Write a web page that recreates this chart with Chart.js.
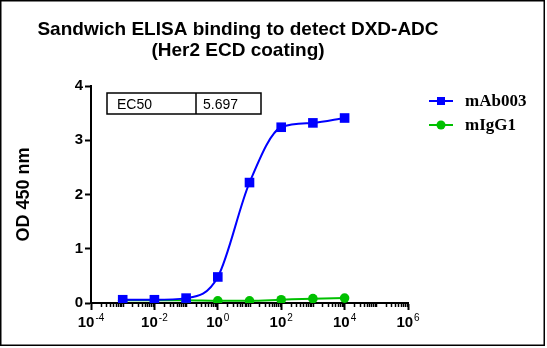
<!DOCTYPE html>
<html>
<head>
<meta charset="utf-8">
<script src="https://cdn.jsdelivr.net/npm/chart.js@4/dist/chart.umd.min.js"></script>
<style>
    html, body { margin: 0; padding: 0; background: #fff; }
    #wrap { width: 547px; height: 348px; position: relative; }
</style>
</head>
<body>
<div id="wrap"><canvas id="elisaChart" width="547" height="348"></canvas></div>
<script>
// Concentrations and OD readings
const concentrations = [0.001, 0.01, 0.1, 1, 10, 100, 1000, 10000];
const mAb003 = [0.06, 0.06, 0.09, 0.48, 2.22, 3.24, 3.32, 3.41];
const mIgG1 = [0.05, 0.05, 0.05, 0.04, 0.04, 0.06, 0.08, 0.09];

const seriesNames = ['mAb003', 'mIgG1'];
const titleLines = ['Sandwich ELISA binding to detect DXD-ADC', '(Her2 ECD coating)'];
const yTicks = [0, 1, 2, 3, 4];
const labelExponents = [-4, -2, 0, 2, 4, 6];
const ec50Label = 'EC50';
const ec50Value = '5.697';

const BLUE = '#0000FF';
const GREEN = '#00C000';
const SANS = '"Liberation Sans", Arial, sans-serif';
const SERIF = '"Liberation Serif", "Times New Roman", serif';

function toPoints(values) {
    return concentrations.map((c, i) => ({ x: c, y: values[i] }));
}

// frame, title, EC50 box, legend, log tick labels and minor ticks
const decorations = {
    id: 'decorations',
    afterDraw(chart) {
        const ctx = chart.ctx;
        const xs = chart.scales.x;
        const bottom = chart.chartArea.bottom;
        ctx.save();

        ctx.strokeStyle = '#000';
        ctx.lineWidth = 1.5;
        ctx.strokeRect(0.75, 0.75, 543.5, 344.5);

        ctx.fillStyle = '#000';
        ctx.font = 'bold 19px ' + SANS;
        ctx.textAlign = 'center';
        ctx.textBaseline = 'alphabetic';
        ctx.fillText(titleLines[0], 238, 35);
        ctx.fillText(titleLines[1], 238, 56);

        // EC50 table
        ctx.lineWidth = 1.5;
        ctx.strokeRect(107, 93, 154, 21);
        ctx.beginPath();
        ctx.moveTo(196, 93);
        ctx.lineTo(196, 114);
        ctx.stroke();
        ctx.font = '14px ' + SANS;
        ctx.textAlign = 'left';
        ctx.fillText(ec50Label, 117, 109);
        ctx.fillText(ec50Value, 203, 109);

        // legend
        const colors = [BLUE, GREEN];
        const styles = ['rect', 'circle'];
        seriesNames.forEach((name, i) => {
            const y = 101 + i * 24;
            ctx.strokeStyle = colors[i];
            ctx.fillStyle = colors[i];
            ctx.lineWidth = 2;
            ctx.beginPath();
            ctx.moveTo(429, y);
            ctx.lineTo(453, y);
            ctx.stroke();
            if (styles[i] === 'rect') {
                ctx.fillRect(437, y - 4, 8, 8);
            } else {
                ctx.beginPath();
                ctx.arc(441, y, 4.5, 0, Math.PI * 2);
                ctx.fill();
            }
            ctx.fillStyle = '#000';
            ctx.font = 'bold 17px ' + SERIF;
            ctx.textBaseline = 'middle';
            ctx.fillText(name, 465, y + 1);
        });

        // minor ticks on the log axis
        ctx.strokeStyle = '#000';
        ctx.lineWidth = 1.5;
        for (let e = -4; e < 6; e++) {
            for (let k = 1; k <= 9; k++) {
                if (k === 1 && labelExponents.includes(e)) continue;
                const px = Math.round(xs.getPixelForValue(k * Math.pow(10, e))) + 0.5;
                ctx.beginPath();
                ctx.moveTo(px, bottom);
                ctx.lineTo(px, bottom + 4);
                ctx.stroke();
            }
        }

        // 10^n labels
        ctx.fillStyle = '#000';
        ctx.textBaseline = 'alphabetic';
        labelExponents.forEach(e => {
            const px = xs.getPixelForValue(Math.pow(10, e));
            const exp = String(e);
            ctx.font = 'bold 15px ' + SANS;
            const baseW = ctx.measureText('10').width;
            ctx.font = '10px ' + SANS;
            const expW = ctx.measureText(exp).width;
            const start = px - (baseW + expW + 1) / 2;
            ctx.font = 'bold 15px ' + SANS;
            ctx.textAlign = 'left';
            ctx.fillText('10', start, 327);
            ctx.font = '10px ' + SANS;
            ctx.fillText(exp, start + baseW + 1, 321);
        });

        ctx.restore();
    }
};

new Chart(document.getElementById('elisaChart'), {
    type: 'line',
    data: {
        datasets: [
            {
                label: seriesNames[0],
                data: toPoints(mAb003),
                borderColor: BLUE,
                backgroundColor: BLUE,
                borderWidth: 2,
                pointStyle: 'rect',
                pointRadius: 6.8,
                pointBorderWidth: 0,
                cubicInterpolationMode: 'monotone'
            },
            {
                label: seriesNames[1],
                data: toPoints(mIgG1),
                borderColor: GREEN,
                backgroundColor: GREEN,
                borderWidth: 2,
                pointStyle: 'circle',
                pointRadius: 4.8,
                pointBorderWidth: 0,
                cubicInterpolationMode: 'monotone'
            }
        ]
    },
    options: {
        responsive: false,
        animation: false,
        layout: { padding: { top: 86, right: 139, left: 0, bottom: 0 } },
        plugins: {
            legend: { display: false },
            tooltip: { enabled: false }
        },
        scales: {
            x: {
                type: 'logarithmic',
                min: 1e-4,
                max: 1e6,
                afterBuildTicks(scale) {
                    scale.ticks = labelExponents.map(e => ({ value: Math.pow(10, e) }));
                },
                afterFit(scale) { scale.height = 45; },
                ticks: { display: false },
                grid: {
                    drawOnChartArea: false,
                    tickLength: 7,
                    tickWidth: 2,
                    tickColor: '#000'
                },
                border: { color: '#000', width: 2 }
            },
            y: {
                min: 0,
                max: 4,
                afterBuildTicks(scale) {
                    scale.ticks = yTicks.map(v => ({ value: v }));
                },
                afterFit(scale) { scale.width = 91; },
                ticks: {
                    color: '#000',
                    padding: 2,
                    font: { family: SANS, size: 15, weight: 'bold' }
                },
                grid: {
                    drawOnChartArea: false,
                    tickLength: 6,
                    tickWidth: 2,
                    tickColor: '#000'
                },
                border: { color: '#000', width: 2 },
                title: {
                    display: true,
                    text: 'OD 450 nm',
                    color: '#000',
                    padding: { top: 13, bottom: 0 },
                    font: { family: SANS, size: 18, weight: 'bold' }
                }
            }
        }
    },
    plugins: [decorations]
});
</script>
</body>
</html>
